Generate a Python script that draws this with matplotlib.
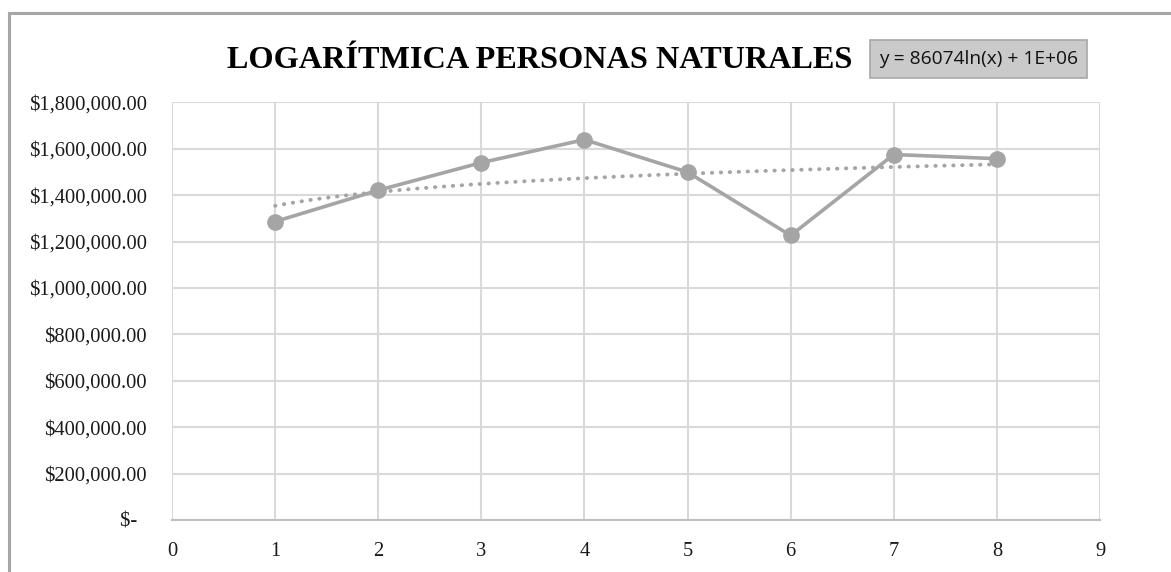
import numpy as np
import matplotlib
matplotlib.use("Agg")
import matplotlib.pyplot as plt
from matplotlib.lines import Line2D
from matplotlib.patches import Rectangle
from matplotlib.ticker import FuncFormatter

# Data
periods = [1, 2, 3, 4, 5, 6, 7, 8]
values = [1286000, 1421000, 1540000, 1639000, 1499000, 1226000, 1575000, 1557000]
trend_slope = 86074  # coefficient of the logarithmic trend line
title = "LOGARÍTMICA PERSONAS NATURALES"
equation = "y = 86074ln(x) + 1E+06"

W, H = 1171, 572
fig = plt.figure(figsize=(W / 100, H / 100), dpi=100)
fig.patch.set_facecolor("white")

ax = fig.add_axes([172 / W, 1 - 520 / H, (1100 - 172) / W, (520 - 102.3) / H])
ax.set_xlim(0, 9)
ax.set_ylim(0, 1800000)
ax.set_xticks(range(0, 10))
ax.set_yticks(np.arange(0, 1800001, 200000))

grid_c = "#D9D9D9"
ax.grid(True, color=grid_c, linewidth=1.5)
ax.set_axisbelow(True)
for s in ["top", "right", "left"]:
    ax.spines[s].set_visible(False)
ax.spines["bottom"].set_color("#BFBFBF")
ax.spines["bottom"].set_linewidth(1.5)
ax.tick_params(length=0)


def money(v, pos):
    if v == 0:
        return "$-  "
    return "${:,.2f}".format(v)


ax.yaxis.set_major_formatter(FuncFormatter(money))
ax.tick_params(axis="y", pad=18, labelsize=14.8)
ax.tick_params(axis="x", pad=16, labelsize=14.8)
for lab in ax.get_xticklabels() + ax.get_yticklabels():
    lab.set_family("Liberation Serif")
    lab.set_color("#1a1a1a")

series_c = "#A5A5A5"
x = np.array(periods, dtype=float)
y = np.array(values, dtype=float)

# Logarithmic trend: slope from the equation, intercept fitted to the data
intercept = y.mean() - trend_slope * np.log(x).mean()
xt = np.linspace(1, 8, 200)
ax.plot(xt, trend_slope * np.log(xt) + intercept, linestyle=(0, (0.1, 2.2)),
        dash_capstyle="round", color=series_c, linewidth=2.8, zorder=2)

ax.plot(x, y, color=series_c, linewidth=2.6, marker="o", markersize=11,
        markerfacecolor=series_c, markeredgecolor=series_c, zorder=3)

# Title
fig.text(540 / W, 1 - 68 / H, title, ha="center", va="baseline",
         fontsize=23.2, fontweight="bold", family="Liberation Serif", color="black")

# Equation label box
bx0, bx1, by0, by1 = 870, 1087, 40, 78
fig.patches.append(Rectangle((bx0 / W, 1 - by1 / H), (bx1 - bx0) / W, (by1 - by0) / H,
                             transform=fig.transFigure, facecolor="#CACACA",
                             edgecolor="#A8A8A8", linewidth=1.2))
fig.text((bx0 + bx1) / 2 / W, 1 - (by0 + by1) / 2 / H, equation, ha="center",
         va="center", fontsize=13.8, family="Open Sans", color="#111111")

# Outer chart frame
fc = "#A6A6A6"
fig.add_artist(Line2D([9 / W, 9 / W], [0, 1 - 13 / H], transform=fig.transFigure,
                      color=fc, linewidth=2.2))
fig.add_artist(Line2D([9 / W, 1], [1 - 13 / H, 1 - 13 / H], transform=fig.transFigure,
                      color=fc, linewidth=2.2))

fig.savefig("out.png", dpi=100)
